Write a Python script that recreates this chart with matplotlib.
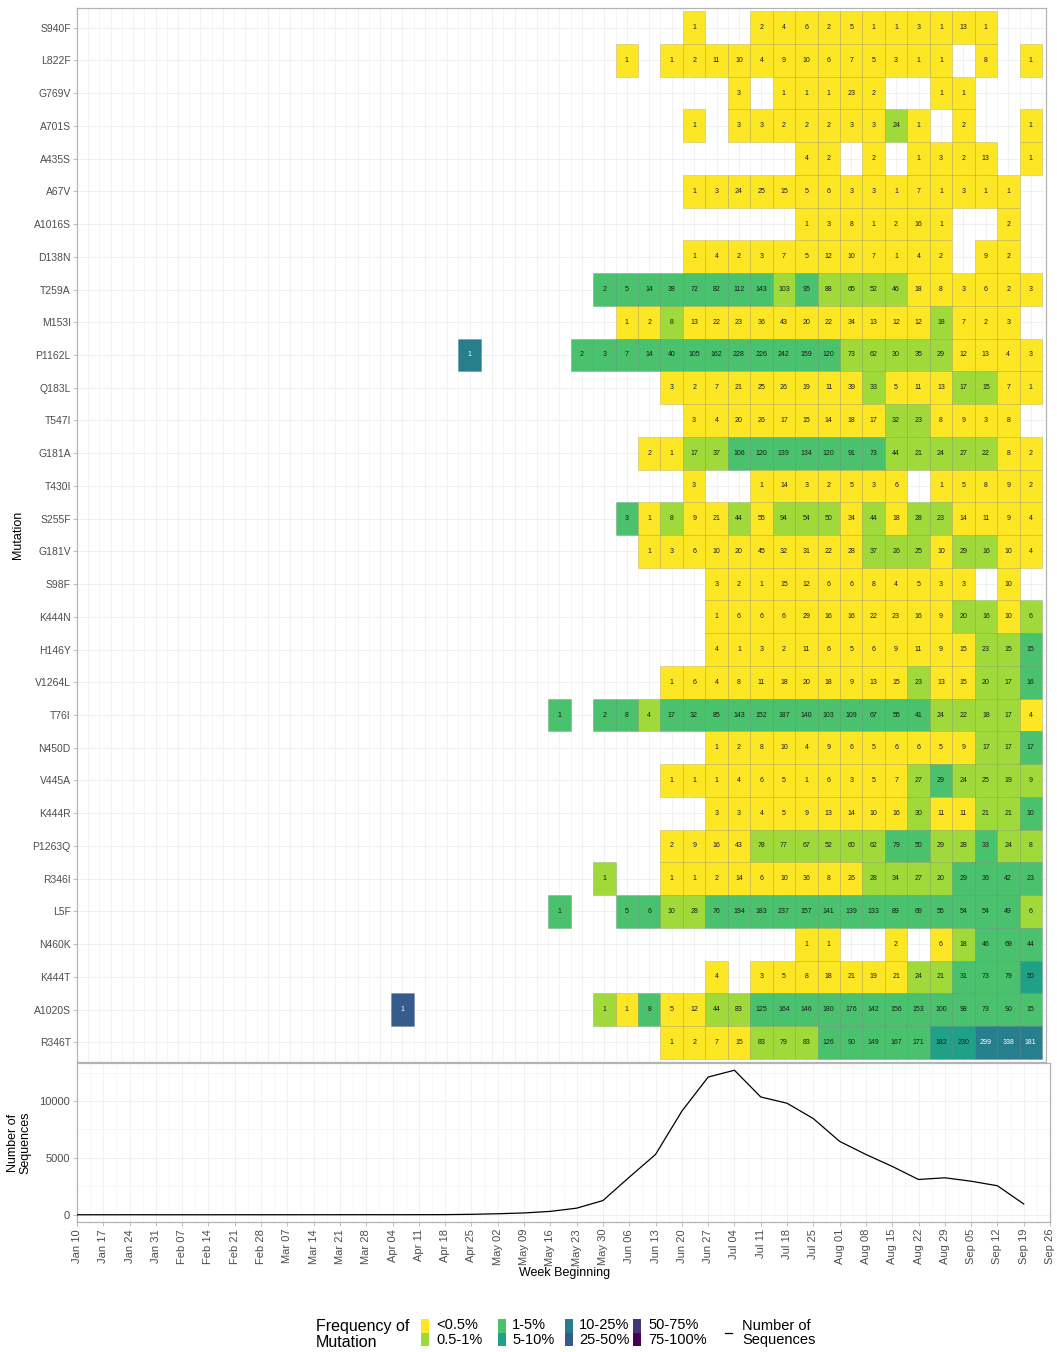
import matplotlib
matplotlib.use("Agg")
import matplotlib.pyplot as plt
from matplotlib.patches import Rectangle
from matplotlib.lines import Line2D

plt.rcParams['font.family'] = ['Liberation Sans', 'DejaVu Sans']

# week beginnings shown on the shared time axis
weeks = ['Jan 10', 'Jan 17', 'Jan 24', 'Jan 31', 'Feb 07', 'Feb 14', 'Feb 21',
         'Feb 28', 'Mar 07', 'Mar 14', 'Mar 21', 'Mar 28', 'Apr 04', 'Apr 11',
         'Apr 18', 'Apr 25', 'May 02', 'May 09', 'May 16', 'May 23', 'May 30',
         'Jun 06', 'Jun 13', 'Jun 20', 'Jun 27', 'Jul 04', 'Jul 11', 'Jul 18',
         'Jul 25', 'Aug 01', 'Aug 08', 'Aug 15', 'Aug 22', 'Aug 29', 'Sep 05',
         'Sep 12', 'Sep 19', 'Sep 26']

# total sequences per week (Jan 10 .. Sep 19)
seq_counts = [2, 1, 3, 2, 1, 2, 3, 2, 3, 4, 5, 7, 6, 8, 12, 40, 90, 160, 300,
              580, 1250, 3300, 5300, 9100, 12100, 12700, 10350, 9800, 8450,
              6450, 5300, 4250, 3100, 3250, 2950, 2550, 950]

mutations = ['S940F', 'L822F', 'G769V', 'A701S', 'A435S', 'A67V', 'A1016S',
             'D138N', 'T259A', 'M153I', 'P1162L', 'Q183L', 'T547I', 'G181A',
             'T430I', 'S255F', 'G181V', 'S98F', 'K444N', 'H146Y', 'V1264L',
             'T76I', 'N450D', 'V445A', 'K444R', 'P1263Q', 'R346I', 'L5F',
             'N460K', 'K444T', 'A1020S', 'R346T']

_ = None
# first week with a count, per mutation
first_week = [
    'Jun 06', 'May 16', 'Jun 20', 'Jun 06', 'Jul 11', 'Jun 06', 'Jul 11',
    'Jun 06', 'May 09', 'May 16', 'Mar 28', 'May 30', 'Jun 06', 'May 23',
    'Jun 06', 'May 16', 'May 23', 'Jun 13', 'Jun 13', 'Jun 13', 'May 30',
    'Apr 25', 'Jun 13', 'May 30', 'Jun 13', 'May 30', 'May 09', 'Apr 25',
    'Jul 11', 'Jun 13', 'Mar 07', 'May 30']

# sequences carrying each mutation, week by week from first_week
mut_counts = [
    [1, _, _, 2, 4, 6, 2, 5, 1, 1, 3, 1, 13, 1],
    [1, _, 1, 2, 11, 10, 4, 9, 10, 6, 7, 5, 3, 1, 1, _, 8, _, 1],
    [3, _, 1, 1, 1, 23, 2, _, _, 1, 1],
    [1, _, 3, 3, 2, 2, 2, 3, 3, 24, 1, _, 2, _, _, 1],
    [4, 2, _, 2, _, 1, 3, 2, 13, _, 1],
    [1, 3, 24, 25, 15, 5, 6, 3, 3, 1, 7, 1, 3, 1, 1],
    [1, 3, 8, 1, 2, 16, 1, _, _, 2],
    [1, 4, 2, 3, 7, 5, 12, 10, 7, 1, 4, 2, _, 9, 2],
    [2, 5, 14, 38, 72, 82, 112, 143, 103, 95, 88, 65, 52, 46, 18, 8, 3, 6, 2, 3],
    [1, 2, 8, 13, 22, 23, 36, 43, 20, 22, 34, 13, 12, 12, 18, 7, 2, 3],
    [1, _, _, _, _, 2, 3, 7, 14, 40, 105, 162, 228, 226, 242, 159, 120, 73, 62,
     30, 35, 29, 12, 13, 4, 3],
    [3, 2, 7, 21, 25, 26, 19, 11, 39, 33, 5, 11, 13, 17, 15, 7, 1],
    [3, 4, 20, 26, 17, 15, 14, 18, 17, 32, 23, 8, 9, 3, 8],
    [2, 1, 17, 37, 106, 120, 139, 134, 120, 91, 73, 44, 21, 24, 27, 22, 8, 2],
    [3, _, _, 1, 14, 3, 2, 5, 3, 6, _, 1, 5, 8, 9, 2],
    [3, 1, 8, 9, 21, 44, 55, 94, 54, 50, 34, 44, 18, 28, 23, 14, 11, 9, 4],
    [1, 3, 6, 10, 20, 45, 32, 31, 22, 28, 37, 26, 25, 10, 29, 16, 10, 4],
    [3, 2, 1, 15, 12, 6, 6, 8, 4, 5, 3, 3, _, 10],
    [1, 6, 6, 6, 29, 16, 16, 22, 23, 16, 9, 20, 16, 10, 6],
    [4, 1, 3, 2, 11, 6, 5, 6, 9, 11, 9, 15, 23, 15, 15],
    [1, 6, 4, 8, 11, 18, 20, 18, 9, 13, 15, 23, 13, 15, 20, 17, 16],
    [1, _, 2, 8, 4, 17, 32, 85, 143, 152, 187, 140, 103, 109, 67, 55, 41, 24,
     22, 18, 17, 4],
    [1, 2, 8, 10, 4, 9, 6, 5, 6, 6, 5, 9, 17, 17, 17],
    [1, 1, 1, 4, 6, 5, 1, 6, 3, 5, 7, 27, 29, 24, 25, 19, 9],
    [3, 3, 4, 5, 9, 13, 14, 10, 16, 30, 11, 11, 21, 21, 10],
    [2, 9, 16, 43, 78, 77, 67, 52, 60, 62, 79, 50, 29, 28, 33, 24, 8],
    [1, _, _, 1, 1, 2, 14, 6, 10, 36, 8, 26, 28, 34, 27, 20, 29, 36, 42, 23],
    [1, _, _, 5, 6, 10, 28, 76, 194, 183, 237, 157, 141, 139, 133, 89, 69, 55,
     54, 54, 49, 6],
    [1, 1, _, _, 2, _, 6, 18, 46, 69, 44],
    [4, _, 3, 5, 8, 18, 21, 19, 21, 24, 21, 31, 73, 79, 50],
    [1, _, _, _, _, _, _, _, _, 1, 1, 8, 5, 12, 44, 83, 125, 164, 146, 180,
     176, 142, 156, 153, 100, 98, 73, 90, 15],
    [1, 2, 7, 15, 83, 79, 83, 126, 90, 149, 167, 171, 182, 230, 299, 338, 181],
]

# frequency band of each cell (digit = index into freq_labels, '.' = none)
mut_bins = [
    '0..00000000000',
    '0.0000000000000.0.0',
    '0.00000..00',
    '0.000000010.0..0',
    '00.0.0000.0',
    '000000000000000',
    '0000000..0',
    '000000000000.00',
    '22222222121111000000',
    '001000000000001000',
    '4....222222222222111110000',
    '00000000010001100',
    '000000000110000',
    '001122222221111100',
    '0..0000000.00000',
    '2010010111010110000',
    '000000000011101100',
    '000000000000.0',
    '000000000001101',
    '000000000000112',
    '00000000000100112',
    '2.22122222222222211110',
    '000000000000112',
    '00000000000121111',
    '000000000100112',
    '00001111112211211',
    '1..00000000011112222',
    '2..2211222222222222221',
    '00..0.01222',
    '0.0000000112223',
    '5........10200112222222222222',
    '00001112222233444',
]

freq_labels = ['<0.5%', '0.5-1%', '1-5%', '5-10%', '10-25%', '25-50%',
               '50-75%', '75-100%']
freq_colors = ['#FDE725', '#9FDA3A', '#4AC16D', '#1FA187', '#277F8E',
               '#365C8D', '#46337E', '#440154']

W, H = 1057, 1352
GREY_TXT = '#4D4D4D'
BORDER = '#B3B3B3'


def px_box(x0, y0, x1, y1):
    return [x0 / W, 1 - y1 / H, (x1 - x0) / W, (y1 - y0) / H]


def fx(x):
    return x / W


def fy(y):
    return 1 - y / H


fig = plt.figure(figsize=(W / 100, H / 100), dpi=100)
ax = fig.add_axes(px_box(77, 8, 1046, 1062))
axl = fig.add_axes(px_box(77, 1063, 1050, 1222))

# ---- heatmap of mutation counts ----
xs, ys, cols, labels = [], [], [], []
for r, (start, counts, bins) in enumerate(zip(first_week, mut_counts, mut_bins)):
    w0 = weeks.index(start)
    for k, (v, b) in enumerate(zip(counts, bins)):
        if v is None:
            continue
        xs.append(w0 + k)
        ys.append(r)
        cols.append(int(b))
        labels.append(v)

ax.bar(xs, 1.0, bottom=[y - 0.5 for y in ys], width=1.0,
       color=[freq_colors[c] for c in cols], edgecolor=(0, 0, 0, 0.16),
       linewidth=0.5, zorder=2)
for x, y, c, v in zip(xs, ys, cols, labels):
    ax.text(x, y, str(v), ha='center', va='center', fontsize=5,
            color='white' if c >= 4 else '#1A1A1A', zorder=3)

ax.set_xlim(-6.06, 36.68)
ax.set_ylim(len(mutations) - 0.4, -0.6)
ax.set_xticks(range(-6, 37))
ax.set_xticks([i + 0.5 for i in range(-7, 37)], minor=True)
ax.set_yticks(range(len(mutations)))
ax.set_yticklabels(mutations)
ax.tick_params(axis='x', which='both', length=0, labelbottom=False)
ax.tick_params(axis='y', length=3, width=0.6, color=BORDER,
               labelsize=7.5, labelcolor=GREY_TXT, pad=1.5)
ax.grid(which='major', color='#EBEBEB', linewidth=0.5)
ax.grid(which='minor', axis='x', color='#F2F2F2', linewidth=0.5)
ax.set_axisbelow(True)
for s in ax.spines.values():
    s.set_color(BORDER)
    s.set_linewidth(0.9)

# ---- weekly sequence totals ----
axl.plot(range(len(seq_counts)), seq_counts, color='black', linewidth=0.9,
         zorder=3)
axl.set_xlim(0, len(weeks) - 1)
axl.set_ylim(-635, 13335)
axl.set_xticks(range(len(weeks)))
axl.set_xticklabels(weeks, rotation=90, ha='center', va='top')
axl.set_xticks([i + 0.5 for i in range(len(weeks) - 1)], minor=True)
axl.set_yticks([0, 5000, 10000])
axl.set_yticks([2500, 7500, 12500], minor=True)
axl.tick_params(axis='both', which='major', length=3, width=0.6, color=BORDER,
                labelsize=8, labelcolor=GREY_TXT, pad=2)
axl.tick_params(axis='both', which='minor', length=0)
axl.grid(which='major', color='#EBEBEB', linewidth=0.5)
axl.grid(which='minor', color='#F4F4F4', linewidth=0.5)
axl.set_axisbelow(True)
for s in axl.spines.values():
    s.set_color(BORDER)
    s.set_linewidth(0.9)

# ---- axis titles ----
fig.text(fx(18), fy(535), 'Mutation', rotation=90, ha='center', va='center',
         fontsize=9)
fig.text(fx(19), fy(1143), 'Number of\nSequences', rotation=90, ha='center',
         va='center', fontsize=9, linespacing=1.0)
fig.text(fx(565), fy(1273), 'Week Beginning', ha='center', va='center',
         fontsize=9)

# ---- legend ----
fig.text(fx(316), fy(1334.5), 'Frequency of\nMutation', ha='left',
         va='center', fontsize=11.5, linespacing=1.02)
sw_left = [421, 498, 565, 633]
txt_left = [436, 512, 579, 648]
row_y = [1325, 1340.5]
for i, (lab, col) in enumerate(zip(freq_labels, freq_colors)):
    c, r = divmod(i, 2)
    fig.patches.append(Rectangle((fx(sw_left[c]), fy(1319 + 13.5 * (r + 1))),
                                 7.5 / W, 13.5 / H, transform=fig.transFigure,
                                 facecolor=col, edgecolor='none'))
    fig.text(fx(txt_left[c]), fy(row_y[r]), lab, ha='left',
             va='center', fontsize=10.5, color='black')
fig.lines.append(Line2D([fx(725), fx(732)], [fy(1333), fy(1333)],
                        transform=fig.transFigure, color='black',
                        linewidth=0.9))
fig.text(fx(742), fy(1333), 'Number of\nSequences', ha='left', va='center',
         fontsize=10.5, linespacing=1.0)

fig.savefig('out.png', dpi=100)
